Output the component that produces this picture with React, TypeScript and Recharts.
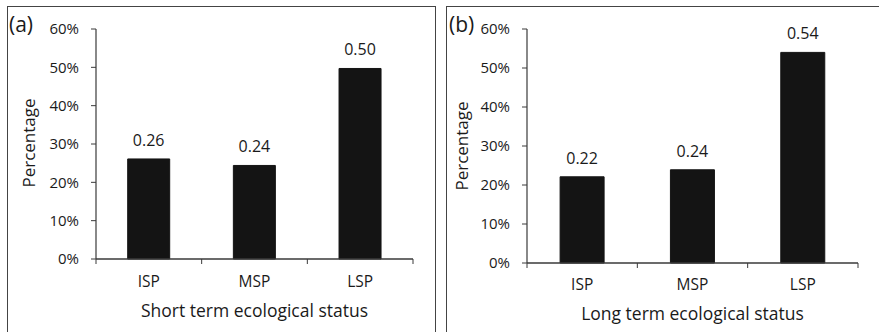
import { Bar, BarChart, LabelList, XAxis, YAxis } from "recharts";

const categories = ["ISP", "MSP", "LSP"];
const shortTermValues = [0.261, 0.244, 0.497];
const longTermValues = [0.221, 0.239, 0.54];
const yTicks = [0, 0.1, 0.2, 0.3, 0.4, 0.5, 0.6];

const FONT = "'Open Sans', sans-serif";
const INK = "#1a1a1a";
const AXIS = "#3a3a3a";

const shortData = categories.map((name, i) => ({ name, value: shortTermValues[i] }));
const longData = categories.map((name, i) => ({ name, value: longTermValues[i] }));

type TickProps = {
  x?: number;
  y?: number;
  index?: number;
  payload?: { value: string };
  band: number;
  count: number;
  labelDy: number;
};

// category label at the band centre, tick marks on band boundaries
function CategoryTick({ x = 0, y = 0, index = 0, payload, band, count, labelDy }: TickProps) {
  const axisY = y - 8;
  const left = x - band / 2;
  const right = x + band / 2;
  return (
    <g>
      <line x1={left} x2={left} y1={axisY} y2={axisY + 5} stroke={AXIS} strokeWidth={1} />
      {index === count - 1 && (
        <line x1={right} x2={right} y1={axisY} y2={axisY + 5} stroke={AXIS} strokeWidth={1} />
      )}
      <text x={x} y={axisY + labelDy} textAnchor="middle" fontSize={15.5} fill={INK} fontFamily={FONT}>
        {payload?.value}
      </text>
    </g>
  );
}

type PanelProps = {
  data: Array<{ name: string; value: number }>;
  width: number;
  height: number;
  margin: { top: number; right: number; bottom: number; left: number };
  labelDy: number;
};

function Panel({ data, width, height, margin, labelDy }: PanelProps) {
  const yAxisWidth = 60;
  const plotWidth = width - margin.left - margin.right - yAxisWidth;
  const band = plotWidth / data.length;

  return (
    <BarChart width={width} height={height} data={data} margin={margin} barCategoryGap="30%">
      <XAxis
        dataKey="name"
        height={60}
        axisLine={{ stroke: AXIS, strokeWidth: 1.5 }}
        tickLine={false}
        interval={0}
        tick={(props: any) => (
          <CategoryTick {...props} band={band} count={data.length} labelDy={labelDy} />
        )}
      />
      <YAxis
        width={yAxisWidth}
        domain={[0, 0.6]}
        ticks={yTicks}
        interval={0}
        axisLine={{ stroke: AXIS, strokeWidth: 1.2 }}
        tickLine={{ stroke: AXIS }}
        tickSize={5}
        tickMargin={12}
        tick={{ fontSize: 15, fill: INK, fontFamily: FONT }}
        tickFormatter={(v: number) => `${Math.round(v * 100)}%`}
      />
      <Bar dataKey="value" fill="#141414" stroke="#141414" isAnimationActive={false}>
        <LabelList
          dataKey="value"
          position="top"
          offset={13}
          fontSize={16}
          fill={INK}
          fontFamily={FONT}
          formatter={(v: any) => Number(v).toFixed(2)}
        />
      </Bar>
    </BarChart>
  );
}

export default function App() {
  return (
    <div
      style={{
        position: "absolute",
        left: 0,
        top: 0,
        width: 879,
        height: 332,
        overflow: "hidden",
        background: "#fff",
        fontFamily: FONT,
      }}
    >
      <div
        style={{
          position: "absolute",
          left: 7,
          top: 6,
          width: 427,
          height: 340,
          border: "1px solid #444",
        }}
      />
      <div
        style={{
          position: "absolute",
          left: 446,
          top: 6,
          width: 450,
          height: 340,
          border: "1px solid #444",
        }}
      />
      <div style={{ position: "absolute", left: 0, top: 0 }}>
        <Panel
          data={shortData}
          width={440}
          height={332}
          margin={{ top: 29, right: 27, bottom: 13, left: 36 }}
          labelDy={28}
        />
      </div>
      <div style={{ position: "absolute", left: 438, top: 0 }}>
        <Panel
          data={longData}
          width={441}
          height={332}
          margin={{ top: 29, right: 21, bottom: 9, left: 29 }}
          labelDy={27}
        />
      </div>
      <svg
        width={879}
        height={332}
        style={{ position: "absolute", left: 0, top: 0, pointerEvents: "none" }}
        fontFamily={FONT}
        fill={INK}
      >
        <text x={9} y={32} fontSize={21}>(a)</text>
        <text x={449} y={32} fontSize={21}>(b)</text>
        <text x={35} y={143} fontSize={17} textAnchor="middle" transform="rotate(-90 35 143)">
          Percentage
        </text>
        <text x={468} y={146} fontSize={17} textAnchor="middle" transform="rotate(-90 468 146)">
          Percentage
        </text>
        <text x={254.5} y={317} fontSize={17.5} textAnchor="middle">
          Short term ecological status
        </text>
        <text x={692.5} y={320} fontSize={17.5} textAnchor="middle">
          Long term ecological status
        </text>
      </svg>
    </div>
  );
}
